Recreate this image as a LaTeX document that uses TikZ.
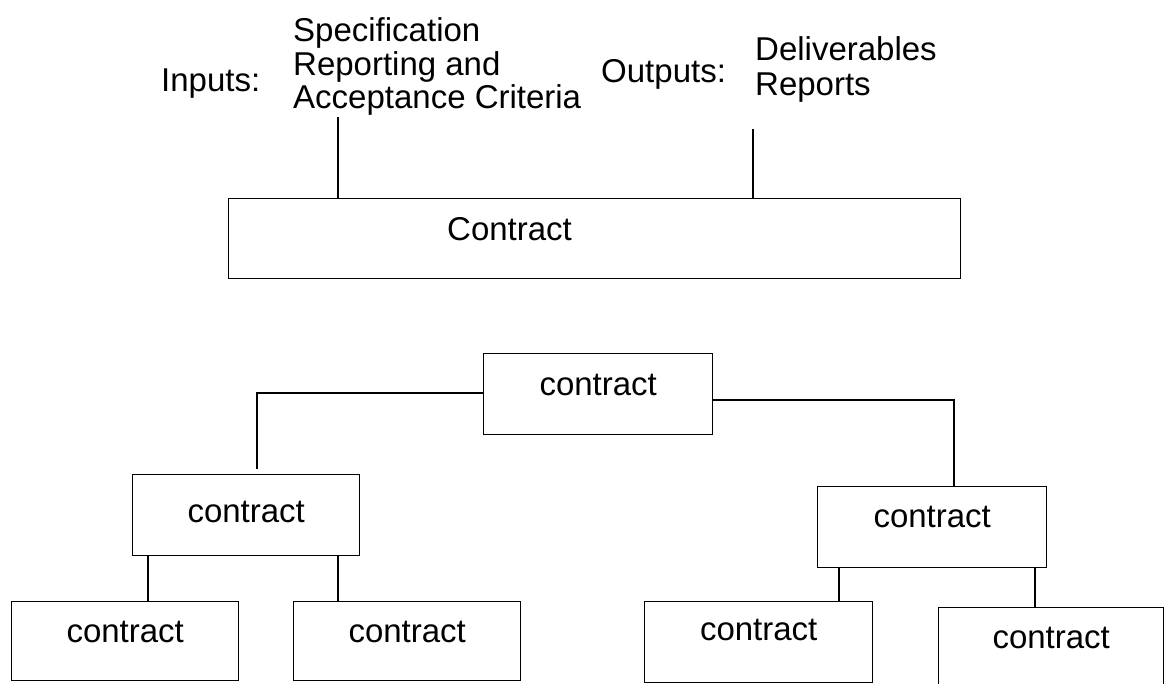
\documentclass[tikz,border=0pt]{standalone}
\usepackage{fontspec}
\setmainfont{Liberation Sans}
\begin{document}
\begin{tikzpicture}[x=1pt,y=-1pt,
  txt/.style={font=\fontsize{33}{35}\selectfont},
  box/.style={draw, line width=1.4pt, rectangle, inner sep=0pt, anchor=north west, txt, text height=23pt},
  lbl/.style={inner sep=0pt, anchor=base west, txt},
  conn/.style={line width=1.4pt}]
\useasboundingbox (0,0) rectangle (1167,683);
\clip (0,0) rectangle (1167,683);
% top labels
\node[lbl] (inputs) at (161,91) {Inputs:};
\node[lbl] (spec1) at (293,41) {Specification};
\node[lbl] (spec2) at (293,75) {Reporting and};
\node[lbl] (spec3) at (293,108) {Acceptance Criteria};
\node[lbl] (outputs) at (601,82) {Outputs:};
\node[lbl] (deliv) at (755,60) {Deliverables};
\node[lbl] (reports) at (755,95) {Reports};
% big contract box
\node[box, minimum width=732pt, minimum height=80pt] (C) at (228,198) {};
\node[lbl] (Ctext) at (447,240) {Contract};
\coordinate (inTop) at (338,117);
\coordinate (outTop) at (753,129);
\draw[conn] (inTop) -- (inTop |- C.north);
\draw[conn] (outTop) -- (outTop |- C.north);
% hierarchy
\node[box, minimum width=229pt, minimum height=81pt, text depth=20pt] (T) at (483,353) {contract};
\node[box, minimum width=227pt, minimum height=81pt, text depth=8pt] (LM) at (132,474) {contract};
\node[box, minimum width=229pt, minimum height=81pt, text depth=22pt] (RM) at (817,486) {contract};
\node[box, minimum width=227pt, minimum height=79pt, text depth=20pt] (A) at (11,601) {contract};
\node[box, minimum width=227pt, minimum height=79pt, text depth=20pt] (B) at (293,601) {contract};
\node[box, minimum width=228pt, minimum height=81pt, text depth=26pt] (Cc) at (644,601) {contract};
\node[box, minimum width=225pt, minimum height=79pt, text depth=20pt] (D) at (938,607) {contract};
\coordinate (LMtop) at (257,469);
\draw[conn] (T.west |- 0,393) -| (LMtop);
\draw[conn] (T.east |- 0,400) -| (RM.north -| 954,0);
\draw[conn] (LM.south -| 148,0) -- (A.north -| 148,0);
\draw[conn] (LM.south -| 338,0) -- (B.north -| 338,0);
\draw[conn] (RM.south -| 839,0) -- (Cc.north -| 839,0);
\draw[conn] (RM.south -| 1035,0) -- (D.north -| 1035,0);
\end{tikzpicture}
\end{document}
